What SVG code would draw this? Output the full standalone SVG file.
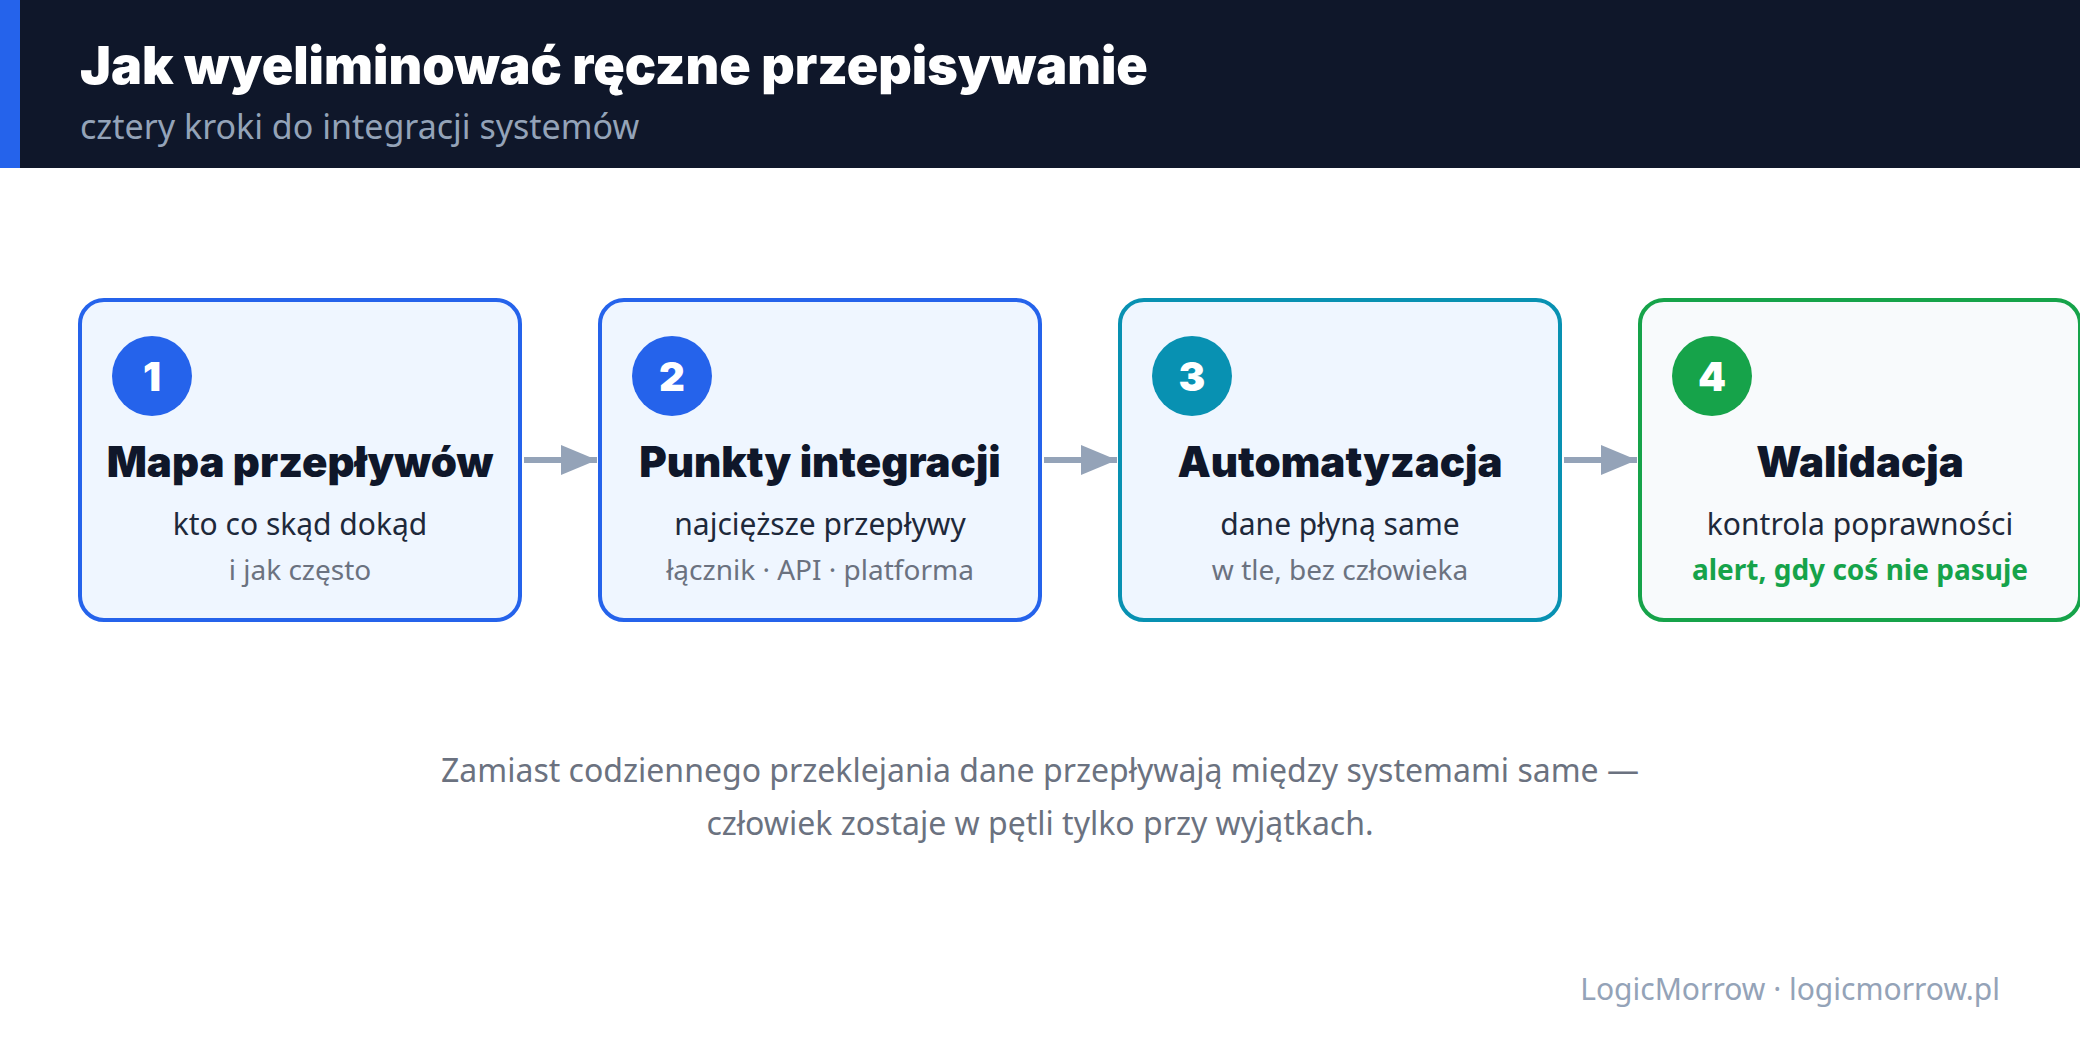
<svg xmlns="http://www.w3.org/2000/svg" width="2080" height="1040" viewBox="0 0 2080 1040">
<style>
.hdr-title{font-family:Inter,Lato,"Noto Sans",sans-serif;font-weight:900;font-size:52px;fill:#ffffff}
.hdr-sub{font-family:"Noto Sans","Open Sans",sans-serif;font-size:34px;fill:#94a3b8}
.box{stroke-width:4}
.b-blue{fill:#eff6ff;stroke:#2563eb}
.b-teal{fill:#eff6ff;stroke:#0891b2}
.b-green{fill:#f8fafc;stroke:#16a34a}
.num{font-family:Inter,Lato,"Noto Sans",sans-serif;font-weight:900;font-size:40px;fill:#ffffff;text-anchor:middle}
.ttl{font-family:Inter,Lato,"Noto Sans",sans-serif;font-weight:900;font-size:42px;fill:#0f172a;text-anchor:middle}
.sub{font-family:"Noto Sans","Open Sans",sans-serif;font-size:30px;fill:#1e293b;text-anchor:middle}
.note{font-family:"Noto Sans","Open Sans",sans-serif;font-size:28px;fill:#6b7280;text-anchor:middle}
.alert{font-family:"Noto Sans","Open Sans",sans-serif;font-weight:700;font-size:28px;fill:#16a34a;text-anchor:middle}
.conn{stroke:#94a3b8;stroke-width:6;fill:none}
.foot{font-family:"Noto Sans","Open Sans",sans-serif;font-size:32px;fill:#6b7280;text-anchor:middle}
.brand{font-family:"Noto Sans","Open Sans",sans-serif;font-size:30px;fill:#94a3b8;text-anchor:end}
</style>
<defs>
<marker id="arr" viewBox="0 0 6 5" refX="6" refY="2.5" markerWidth="6" markerHeight="5" markerUnits="strokeWidth" orient="auto">
<path d="M0,0 L6,2.5 L0,5 Z" fill="#94a3b8"/>
</marker>
</defs>
<rect x="0" y="0" width="2080" height="1040" fill="#ffffff"/>
<g id="header">
<rect x="0" y="0" width="2080" height="168" fill="#0f172a"/>
<rect x="0" y="0" width="20" height="168" fill="#2563eb"/>
<text class="hdr-title" x="80" y="84">Jak wyeliminować ręczne przepisywanie</text>
<text class="hdr-sub" x="80" y="139">cztery kroki do integracji systemów</text>
</g>
<g id="connectors">
<line class="conn" x1="524" y1="460" x2="597" y2="460" marker-end="url(#arr)"/>
<line class="conn" x1="1044" y1="460" x2="1117" y2="460" marker-end="url(#arr)"/>
<line class="conn" x1="1564" y1="460" x2="1637" y2="460" marker-end="url(#arr)"/>
</g>
<g id="step1">
<rect class="box b-blue" x="80" y="300" width="440" height="320" rx="24"/>
<circle cx="152" cy="376" r="40" fill="#2563eb"/>
<text class="num" x="152" y="391">1</text>
<text class="ttl" x="300" y="477">Mapa przepływów</text>
<text class="sub" x="300" y="535">kto co skąd dokąd</text>
<text class="note" x="300" y="580">i jak często</text>
</g>
<g id="step2">
<rect class="box b-blue" x="600" y="300" width="440" height="320" rx="24"/>
<circle cx="672" cy="376" r="40" fill="#2563eb"/>
<text class="num" x="672" y="391">2</text>
<text class="ttl" x="820" y="477">Punkty integracji</text>
<text class="sub" x="820" y="535">najcięższe przepływy</text>
<text class="note" x="820" y="580">łącznik · API · platforma</text>
</g>
<g id="step3">
<rect class="box b-teal" x="1120" y="300" width="440" height="320" rx="24"/>
<circle cx="1192" cy="376" r="40" fill="#0891b2"/>
<text class="num" x="1192" y="391">3</text>
<text class="ttl" x="1340" y="477">Automatyzacja</text>
<text class="sub" x="1340" y="535">dane płyną same</text>
<text class="note" x="1340" y="580">w tle, bez człowieka</text>
</g>
<g id="step4">
<rect class="box b-green" x="1640" y="300" width="440" height="320" rx="24"/>
<circle cx="1712" cy="376" r="40" fill="#16a34a"/>
<text class="num" x="1712" y="391">4</text>
<text class="ttl" x="1860" y="477">Walidacja</text>
<text class="sub" x="1860" y="535">kontrola poprawności</text>
<text class="alert" x="1860" y="580">alert, gdy coś nie pasuje</text>
</g>
<g id="footer">
<text class="foot" x="1040" y="782">Zamiast codziennego przeklejania dane przepływają między systemami same —</text>
<text class="foot" x="1040" y="835">człowiek zostaje w pętli tylko przy wyjątkach.</text>
<text class="brand" x="2000" y="1000">LogicMorrow · logicmorrow.pl</text>
</g>
</svg>
